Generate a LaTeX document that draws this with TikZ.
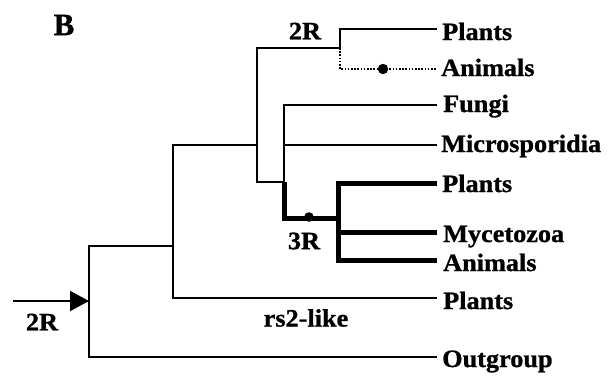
\documentclass[tikz,border=0pt]{standalone}
\usepackage{fontspec}
\setmainfont{Liberation Serif}[FakeStretch=1.05,FakeBold=1]
\newfontfamily\plainfont{Liberation Serif}[FakeBold=1]
\usetikzlibrary{arrows.meta}
\begin{document}
\begin{tikzpicture}[x=1pt,y=-1pt,
  tl/.style={line width=2pt},
  tk/.style={line width=5pt},
  dl/.style={line width=2pt,dash pattern=on 1.6pt off 1.6pt},
  lab/.style={inner sep=0pt,anchor=base west,font=\fontsize{25}{28}\selectfont\bfseries},
  tag/.style={inner sep=0pt,font=\fontsize{25}{28}\selectfont\bfseries},
  dotm/.style={fill=black}]
\useasboundingbox (0,0) rectangle (609,380);
% junctions
\coordinate (root) at (89,301);
\coordinate (nA) at (173,246);
\coordinate (nB) at (257,145);
\coordinate (n2R) at (340,48);
\coordinate (nD) at (284,182);
\coordinate (n3R) at (338,218);
\coordinate (arrS) at (13,301);
% leaf ends
\coordinate (ePlA) at (437,29);
\coordinate (eAnA) at (437,69);
\coordinate (eFun) at (437,105);
\coordinate (eMic) at (437,145);
\coordinate (ePlB) at (437,183);
\coordinate (eMyc) at (437,232);
\coordinate (eAnB) at (437,260);
\coordinate (ePlC) at (437,298);
\coordinate (eOut) at (437,357);
% branches
\draw[tl] (eOut) -| (root);
\draw[tl] (root) |- (nA);
\draw[tl] (ePlC) -| (nA);
\draw[tl] (nA) |- (nB);
\draw[tl] (nB) |- (n2R);
\draw[tl] (n2R) |- (ePlA);
\draw[dl] (n2R) |- (eAnA);
\draw[tl] (nB) |- (nD);
\draw[tl] (nD) |- (eFun);
\draw[tl] (eMic) -- (eMic -| nD);
\draw[tk] (nD) |- (n3R);
\draw[tk] (n3R) |- (ePlB);
\draw[tk] (n3R) |- (eAnB);
\draw[tk] (eMyc) -- (eMyc -| n3R);
\draw[tl,-{Triangle[length=19pt,width=20pt]}] (arrS) -- (root);
% marks
\fill[dotm] (383,69) circle (5.2);
\fill[dotm] (309,217) circle (4.8);
% leaf labels
\node[lab] (tPlA) at (442,40) {Plants};
\node[lab] (tAnA) at (441,76) {Animals};
\node[lab] (tFun) at (443,112) {Fungi};
\node[lab] (tMic) at (441,152) {Microsporidia};
\node[lab] (tPlB) at (442,192) {Plants};
\node[lab] (tMyc) at (443,242) {Mycetozoa};
\node[lab] (tAnB) at (443,271) {Animals};
\node[lab] (tPlC) at (443,309) {Plants};
\node[lab] (tOut) at (442,367) {Outgroup};
% other labels
\node[tag] (t2Rtop) at (305,31) {2R};
\node[tag] (t3R) at (304,241) {3R};
\node[tag] (trs) at (306,318) {rs2-like};
\node[tag] (t2Rbot) at (42,322) {2R};
\node[inner sep=0pt,font=\fontsize{31}{34}\selectfont\bfseries\plainfont] (tB) at (64,25) {B};
\end{tikzpicture}
\end{document}
